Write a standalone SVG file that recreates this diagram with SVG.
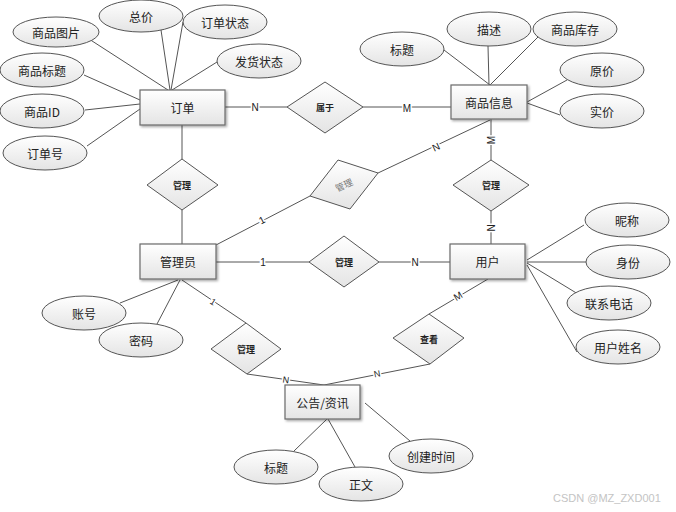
<svg xmlns="http://www.w3.org/2000/svg" width="676" height="512" viewBox="0 0 676 512">
<defs>
<linearGradient id="g" x1="0" y1="0" x2="0" y2="1">
<stop offset="0" stop-color="#ffffff"/>
<stop offset="1" stop-color="#e4e4e4"/>
</linearGradient>
<filter id="sh" x="-10%" y="-10%" width="130%" height="140%">
<feDropShadow dx="1.5" dy="1.5" stdDeviation="0.8" flood-color="#000" flood-opacity="0.35"/>
</filter>
<style>
text{font-family:"Noto Sans CJK SC","Liberation Sans",sans-serif;fill:#222;text-anchor:middle;dominant-baseline:central}
.ent rect{fill:url(#g);stroke:#6a6a6a;stroke-width:1.2;filter:url(#sh)}
.ent text{font-size:12px}
.att ellipse{fill:url(#g);stroke:#555;stroke-width:1}
.att text{font-size:12px}
.rel polygon{fill:url(#g);stroke:#555;stroke-width:1}
.rel text{font-size:9px;font-weight:bold}
#conn line,#conn polyline{stroke:#555;stroke-width:1;fill:none}
.lb{font-family:"Liberation Sans",sans-serif;font-size:10px;paint-order:stroke;stroke:#fff;stroke-width:3px;fill:#222}
.wm{font-family:"Liberation Sans",sans-serif;font-size:11px;fill:#c4c4c4;text-anchor:start}
</style>
</defs>
<rect width="676" height="512" fill="#fff"/>

<g id="conn">
<!-- 订单 attributes -->
<line x1="89" y1="39" x2="168" y2="90"/>
<line x1="161" y1="30" x2="170" y2="90"/>
<line x1="183" y1="22" x2="171" y2="90"/>
<line x1="217" y1="62" x2="172" y2="90"/>
<line x1="84" y1="75" x2="140" y2="100"/>
<line x1="85" y1="110" x2="140" y2="104"/>
<line x1="87" y1="146" x2="140" y2="109"/>
<!-- 订单 - 属于 - 商品信息 -->
<line x1="225" y1="107" x2="287" y2="107"/>
<line x1="363" y1="107" x2="451" y2="107"/>
<!-- 订单 - 管理 - 管理员 -->
<line x1="182" y1="125" x2="182" y2="159"/>
<line x1="182" y1="210" x2="182" y2="244"/>
<!-- 商品信息 attributes -->
<line x1="444" y1="50" x2="490" y2="85"/>
<line x1="488" y1="46" x2="489" y2="85"/>
<line x1="539" y1="36" x2="490" y2="85"/>
<line x1="567" y1="80" x2="527" y2="102"/>
<line x1="560" y1="115" x2="527" y2="103" stroke-width="1.5"/>
<!-- 商品信息 - 管理 - 用户 -->
<line x1="491" y1="119" x2="491" y2="160"/>
<line x1="491" y1="211" x2="491" y2="244"/>
<!-- 商品信息 - 管理(rot) - 管理员 -->
<line x1="490" y1="120" x2="378" y2="173"/>
<line x1="310" y1="196" x2="216" y2="245"/>
<!-- 管理员 - 管理 - 用户 -->
<line x1="216" y1="262" x2="309" y2="262"/>
<line x1="379" y1="262" x2="450" y2="262"/>
<!-- 用户 attributes -->
<line x1="527" y1="260" x2="584" y2="225"/>
<line x1="527" y1="262" x2="586" y2="262"/>
<line x1="527" y1="263" x2="578" y2="294"/>
<line x1="527" y1="265" x2="577" y2="352"/>
<!-- 管理员 attributes -->
<line x1="178" y1="280" x2="120" y2="303"/>
<line x1="180" y1="280" x2="157" y2="324"/>
<!-- 管理员 - 管理 - 公告 -->
<line x1="182" y1="280" x2="246" y2="323"/>
<polyline points="247,374 324,385 430,364"/>
<!-- 用户 - 查看 -->
<line x1="488" y1="279" x2="429" y2="314"/>
<!-- 公告 attributes -->
<line x1="327" y1="419" x2="294" y2="451"/>
<line x1="328" y1="419" x2="355" y2="467"/>
<line x1="365" y1="403" x2="410" y2="441"/>

<text class="lb" x="255" y="107">N</text>
<text class="lb" x="407" y="108">M</text>
<text class="lb" transform="translate(491,140) rotate(-90)">M</text>
<text class="lb" transform="translate(491,228) rotate(-90)">N</text>
<text class="lb" transform="translate(436,147) rotate(-25)">N</text>
<text class="lb" transform="translate(262,220) rotate(-27)">1</text>
<text class="lb" x="263" y="262">1</text>
<text class="lb" x="415" y="262">N</text>
<text class="lb" transform="translate(458,296) rotate(-31)">M</text>
<text class="lb" transform="translate(213,302) rotate(34)" style="font-size:9px">1</text>
<text class="lb" transform="translate(286,380) rotate(8)" style="font-size:9px">N</text>
<text class="lb" transform="translate(377,374) rotate(-11)" style="font-size:9px">N</text>
</g>

<g id="e_order" class="ent"><rect x="140" y="90" width="85" height="35"/><text x="182.5" y="107.5">订单</text></g>
<g id="e_goods" class="ent"><rect x="451" y="85" width="76" height="34"/><text x="489" y="102">商品信息</text></g>
<g id="e_admin" class="ent"><rect x="140" y="244" width="76" height="35"/><text x="178" y="261.5">管理员</text></g>
<g id="e_user" class="ent"><rect x="450" y="244" width="75" height="35"/><text x="487.5" y="261.5">用户</text></g>
<g id="e_notice" class="ent"><rect x="285" y="385" width="75" height="34"/><text x="322.5" y="402">公告/资讯</text></g>

<g id="r_belong" class="rel"><polygon points="325,82 363,107 325,133 287,107"/><text x="325" y="107">属于</text></g>
<g id="r_manage1" class="rel"><polygon points="182,159 218,185 182,210 147,185"/><text x="182" y="185">管理</text></g>
<g id="r_manage2" class="rel"><polygon points="491,160 529,185 491,211 453,185"/><text x="491" y="185">管理</text></g>
<g id="r_manage3" class="rel"><polygon points="338,160 378,173 350,209 310,196"/><text transform="translate(344,185) rotate(-25)" style="fill:#777;font-weight:normal">管理</text></g>
<g id="r_manage4" class="rel"><polygon points="344,236 379,262 344,287 309,262"/><text x="344" y="262">管理</text></g>
<g id="r_manage5" class="rel"><polygon points="246,323 281,349 247,374 211,349"/><text x="246" y="349">管理</text></g>
<g id="r_view" class="rel"><polygon points="429,314 464,338 430,364 393,338"/><text x="429" y="339">查看</text></g>

<g id="a_img" class="att"><ellipse cx="56" cy="32" rx="43" ry="15"/><text x="56" y="32">商品图片</text></g>
<g id="a_total" class="att"><ellipse cx="141" cy="16" rx="42" ry="16"/><text x="141" y="16">总价</text></g>
<g id="a_ostate" class="att"><ellipse cx="225" cy="22" rx="42" ry="17"/><text x="225" y="22">订单状态</text></g>
<g id="a_ship" class="att"><ellipse cx="259" cy="61" rx="42" ry="17"/><text x="259" y="61">发货状态</text></g>
<g id="a_gtitle" class="att"><ellipse cx="42" cy="70" rx="42" ry="17"/><text x="42" y="70">商品标题</text></g>
<g id="a_gid" class="att"><ellipse cx="42" cy="111" rx="42" ry="17"/><text x="42" y="111">商品ID</text></g>
<g id="a_ono" class="att"><ellipse cx="45" cy="153" rx="42" ry="17"/><text x="45" y="153">订单号</text></g>

<g id="a_title" class="att"><ellipse cx="402" cy="49" rx="42" ry="17"/><text x="402" y="49">标题</text></g>
<g id="a_desc" class="att"><ellipse cx="489" cy="29" rx="42" ry="17"/><text x="489" y="29">描述</text></g>
<g id="a_stock" class="att"><ellipse cx="575" cy="29" rx="42" ry="17"/><text x="575" y="29">商品库存</text></g>
<g id="a_oprice" class="att"><ellipse cx="602" cy="70" rx="42" ry="17"/><text x="602" y="70">原价</text></g>
<g id="a_rprice" class="att"><ellipse cx="602" cy="111" rx="42" ry="17"/><text x="602" y="111">实价</text></g>

<g id="a_nick" class="att"><ellipse cx="627" cy="220" rx="42" ry="17"/><text x="627" y="220">昵称</text></g>
<g id="a_role" class="att"><ellipse cx="628" cy="262" rx="42" ry="17"/><text x="628" y="262">身份</text></g>
<g id="a_phone" class="att"><ellipse cx="609" cy="303" rx="42" ry="17"/><text x="609" y="303">联系电话</text></g>
<g id="a_uname" class="att"><ellipse cx="618" cy="347" rx="42" ry="17"/><text x="618" y="347">用户姓名</text></g>

<g id="a_acc" class="att"><ellipse cx="84" cy="313" rx="42" ry="17"/><text x="84" y="313">账号</text></g>
<g id="a_pwd" class="att"><ellipse cx="141" cy="340" rx="42" ry="17"/><text x="141" y="340">密码</text></g>

<g id="a_ntitle" class="att"><ellipse cx="276" cy="467" rx="42" ry="17"/><text x="276" y="467">标题</text></g>
<g id="a_body" class="att"><ellipse cx="361" cy="484" rx="42" ry="17"/><text x="361" y="484">正文</text></g>
<g id="a_ctime" class="att"><ellipse cx="431" cy="456" rx="42" ry="17"/><text x="431" y="456">创建时间</text></g>

<text class="wm" x="553" y="498">CSDN @MZ_ZXD001</text>
</svg>
